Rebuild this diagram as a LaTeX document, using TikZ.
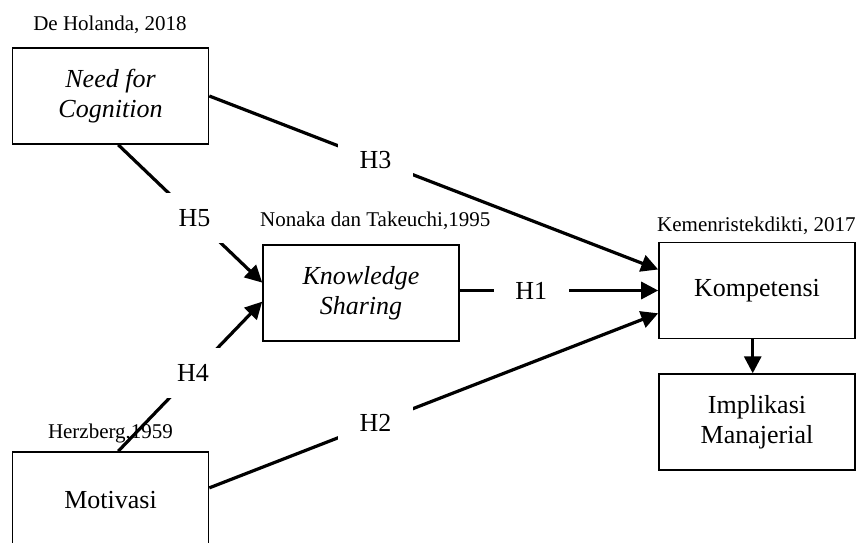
\documentclass[tikz,border=0pt]{standalone}
\usepackage{fontspec}
\setmainfont{Liberation Serif}
\usepackage{tikz}
\usetikzlibrary{positioning, arrows.meta}

\begin{document}
\begin{tikzpicture}[x=1pt, y=1pt,
    varbox/.style={draw, line width=1.6pt, minimum width=196pt, minimum height=96pt,
      align=center, inner sep=0pt, font=\fontsize{26}{30}\selectfont},
    varit/.style={varbox, font=\fontsize{26}{30}\selectfont\itshape},
    cite/.style={inner sep=0pt, font=\fontsize{21}{24}\selectfont},
    hyp/.style={fill=white, minimum width=75pt, minimum height=50pt, inner sep=0pt,
      font=\fontsize{26}{30}\selectfont},
    link/.style={line width=3.2pt, -{Triangle[length=17pt, width=17pt]}}]

    \useasboundingbox (0,0) rectangle (857,543);
    \clip (0,0) rectangle (857,543);

    % Variables
    \node[varit] (nfc) at (110.5,447) {Need for\\Cognition};
    \node[varit] (ks) at (361,250) {Knowledge\\Sharing};
    \node[varbox] (komp) at (757,252.5) {Kompetensi};
    \node[varbox, below=34pt of komp] (impl) {Implikasi\\Manajerial};
    \node[varbox] (mot) at (110.5,43) {Motivasi};

    % Sources
    \node[cite, anchor=base] (holanda) at (110,512) {De Holanda, 2018};
    \node[cite, anchor=base west] (nonaka) at (260,316) {Nonaka dan Takeuchi,1995};
    \node[cite, anchor=base west] (kemen) at (657,311) {Kemenristekdikti, 2017};
    \node[cite, anchor=base] (herz) at (110.5,104) {Herzberg,1959};

    % Hypotheses
    \draw[link] (ks.east |- komp) -- node[hyp, pos=0.36] {H1} (komp.west);
    \draw[link] (mot.7) -- node[hyp, pos=0.37] {H2} (komp.193);
    \draw[link] (nfc.east) -- node[hyp, pos=0.37] {H3} (komp.168);
    \draw[link] (mot.81) -- node[hyp, pos=0.52] {H4} (ks.185);
    \draw[link] (nfc.279) -- node[hyp, pos=0.53] {H5} (ks.174);

    \draw[link] (komp.265) -- (komp.265 |- impl.north);
\end{tikzpicture}
\end{document}
